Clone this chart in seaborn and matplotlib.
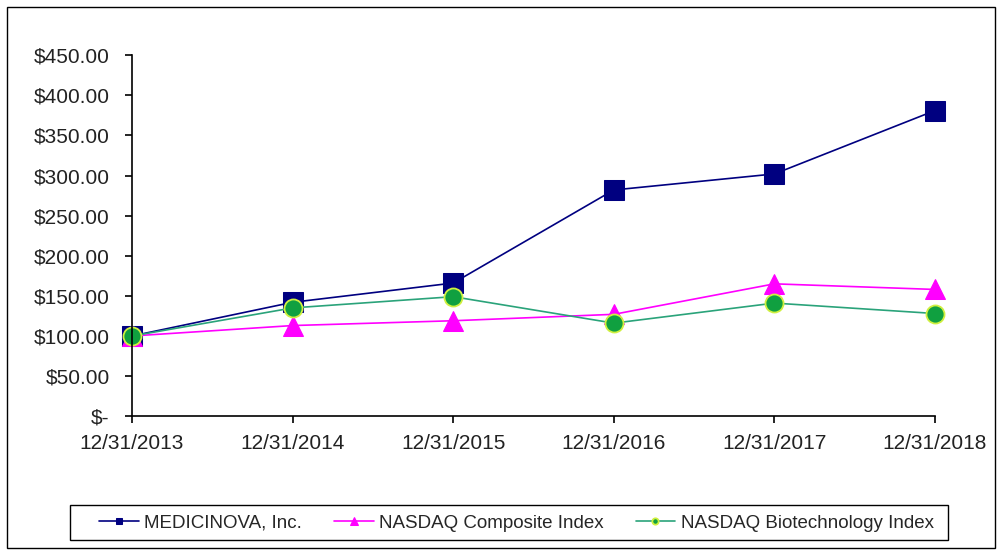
import matplotlib
matplotlib.use("Agg")
import matplotlib.pyplot as plt
import seaborn as sns
import pandas as pd
from matplotlib.patches import Rectangle
from matplotlib.ticker import FuncFormatter

dates = ["12/31/2013", "12/31/2014", "12/31/2015", "12/31/2016", "12/31/2017", "12/31/2018"]
medicinova = [100, 142, 166, 282, 302, 381]
nasdaq_comp = [100, 113, 119, 127, 165, 158]
nasdaq_bio = [100, 135, 149, 116, 141, 128]
series_names = ["MEDICINOVA, Inc.", "NASDAQ Composite Index", "NASDAQ Biotechnology Index"]

sns.set_style("white")
plt.rcParams['font.family'] = ['Liberation Sans', 'DejaVu Sans']

fig = plt.figure(figsize=(10, 5.52), dpi=100)
ax = fig.add_axes([0.132, 0.246, 0.803, 0.654])

x = list(range(len(dates)))
styles = [
    dict(color="#000080", marker="s", markersize=14, markerfacecolor="#000080", markeredgecolor="#000080"),
    dict(color="#ff00ff", marker="^", markersize=15, markerfacecolor="#ff00ff", markeredgecolor="#ff00ff"),
    dict(color="#2aa37a", marker="o", markersize=13, markerfacecolor="#10a040", markeredgecolor="#d0f040", markeredgewidth=1.3),
]
for name, vals, st in zip(series_names, [medicinova, nasdaq_comp, nasdaq_bio], styles):
    sns.lineplot(x=x, y=vals, ax=ax, label=name, linewidth=1.2, clip_on=False, **st)

ax.set_xlim(0, 5)
ax.set_ylim(0, 450)
ax.set_yticks(range(0, 451, 50))
ax.yaxis.set_major_formatter(FuncFormatter(lambda v, p: "$-" if v == 0 else f"${v:,.2f}"))
ax.set_xticks(x)
ax.set_xticklabels(dates)
for s in ["top", "right"]:
    ax.spines[s].set_visible(False)
for s in ["left", "bottom"]:
    ax.spines[s].set_color("black")
    ax.spines[s].set_linewidth(1.2)
ax.tick_params(axis="both", which="major", direction="out", length=5, width=1.2, color="black",
               labelsize=15, labelcolor="#222222", left=True, bottom=True)
ax.tick_params(axis="y", pad=11)
ax.tick_params(axis="x", pad=8)

leg = ax.legend(loc="center", bbox_to_anchor=(0.5165, 0.0525), bbox_transform=fig.transFigure,
                ncol=3, frameon=False, fontsize=13.5,
                markerscale=0.35, handlelength=2.1, columnspacing=1.7, borderpad=0.0,
                handletextpad=0.3, borderaxespad=0)

# legend box
fig.patches.append(Rectangle((0.070, 1 - 540 / 552), 0.878, 35 / 552, transform=fig.transFigure,
                             fill=False, edgecolor="black", linewidth=1.0))
# outer border
fig.patches.append(Rectangle((0.007, 0.008), 0.988, 0.98, transform=fig.transFigure,
                             fill=False, edgecolor="black", linewidth=1.0))

fig.savefig("out.png", dpi=100)
